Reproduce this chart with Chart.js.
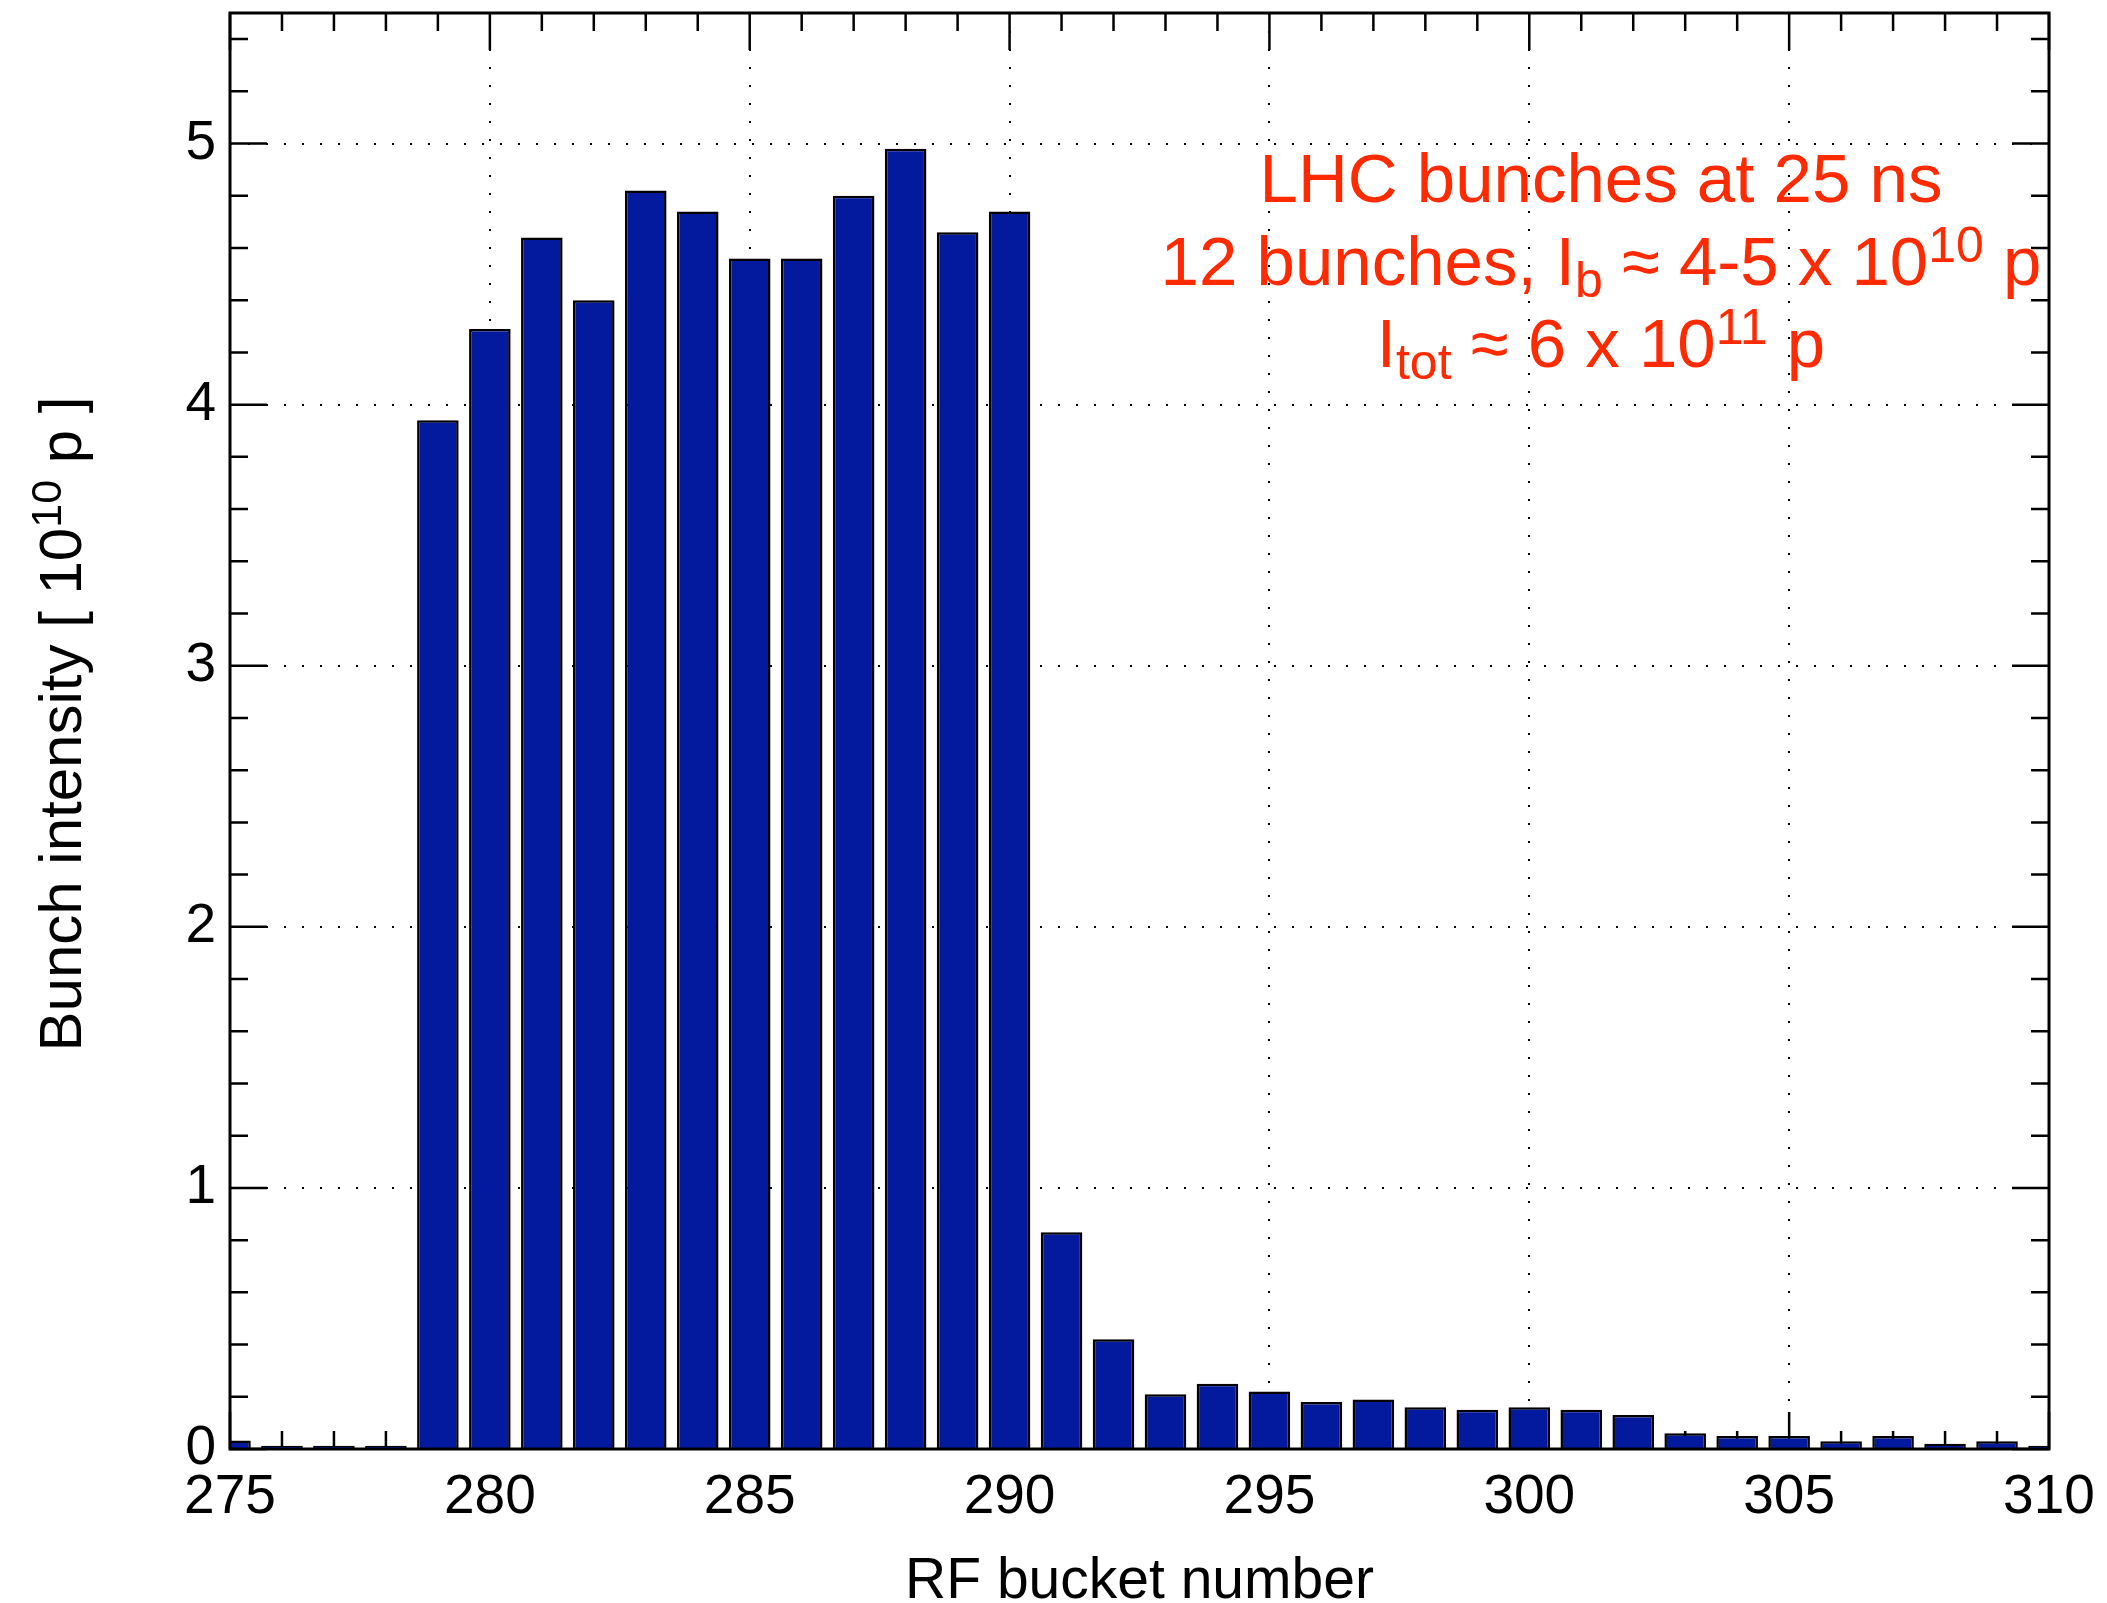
<html><head><meta charset="utf-8">
<script src="https://cdn.jsdelivr.net/npm/chart.js@4.4.0/dist/chart.umd.min.js"></script>
<style>
  html, body { margin:0; padding:0; background:#fff; }
  #box { position:relative; width:2107px; height:1603px; }
</style>
</head>
<body>
<div id="box"><canvas id="myChart" width="2107" height="1603"></canvas></div>
<script>
// RF bucket number and bunch intensity [1e10 p]
var buckets = [275, 276, 277, 278, 279, 280, 281, 282, 283, 284, 285, 286,
               287, 288, 289, 290, 291, 292, 293, 294, 295, 296, 297, 298,
               299, 300, 301, 302, 303, 304, 305, 306, 307, 308, 309, 310];
var intensity = [0.033, 0.012, 0.012, 0.012, 3.94, 4.29, 4.64, 4.40, 4.82, 4.74, 4.56, 4.56,
                 4.80, 4.98, 4.66, 4.74, 0.83, 0.42, 0.21, 0.25, 0.22, 0.18, 0.19, 0.16,
                 0.15, 0.16, 0.15, 0.13, 0.06, 0.05, 0.05, 0.03, 0.05, 0.02, 0.03, 0.012];
var xTicks = [275, 280, 285, 290, 295, 300, 305, 310];
var yTicks = [0, 1, 2, 3, 4, 5];

var FONT = '"Liberation Sans", Arial, Helvetica, sans-serif';
var RED = '#ff2a00';

// draw a line of text runs (normal / sub / sup) centred on cx
function drawRuns(ctx, runs, cx, y, size) {
  var small = Math.round(size * 0.72);
  var w = 0;
  runs.forEach(function (r) {
    ctx.font = (r[1] ? small : size) + 'px ' + FONT;
    w += ctx.measureText(r[0]).width;
  });
  var x = cx - w / 2;
  runs.forEach(function (r) {
    var s = r[1] ? small : size;
    ctx.font = s + 'px ' + FONT;
    var dy = r[1] === 'sub' ? size * 0.17 : (r[1] === 'sup' ? -size * 0.33 : 0);
    ctx.fillText(r[0], x, y + dy);
    x += ctx.measureText(r[0]).width;
  });
}

var decor = {
  id: 'decor',
  beforeDatasetsDraw: function (chart) {
    var ctx = chart.ctx, a = chart.chartArea, xs = chart.scales.x, ys = chart.scales.y;
    ctx.save();
    ctx.strokeStyle = '#000';
    ctx.lineWidth = 2.5;
    ctx.beginPath();
    for (var v = xs.min; v <= xs.max; v++) {
      var px = xs.getPixelForValue(v);
      var len = v % 5 === 0 ? 37 : 18;
      ctx.moveTo(px, a.bottom); ctx.lineTo(px, a.bottom - len);
      ctx.moveTo(px, a.top); ctx.lineTo(px, a.top + len);
    }
    for (var k = 0; k * 0.2 <= ys.max + 1e-9; k++) {
      var py = ys.getPixelForValue(k * 0.2);
      var l2 = k % 5 === 0 ? 37 : 18;
      ctx.moveTo(a.left, py); ctx.lineTo(a.left + l2, py);
      ctx.moveTo(a.right, py); ctx.lineTo(a.right - l2, py);
    }
    ctx.stroke();
    ctx.restore();
  },
  afterDatasetsDraw: function (chart) {
    var ctx = chart.ctx, a = chart.chartArea;
    ctx.save();
    ctx.strokeStyle = '#000';
    ctx.lineWidth = 3;
    ctx.strokeRect(a.left, a.top, a.right - a.left, a.bottom - a.top);
    ctx.restore();
  },
  afterDraw: function (chart) {
    var ctx = chart.ctx, a = chart.chartArea;
    ctx.save();
    ctx.textBaseline = 'alphabetic';
    ctx.fillStyle = '#000';
    ctx.textAlign = 'left';
    // x title
    drawRuns(ctx, [['RF bucket number']], (a.left + a.right) / 2, 1598, 57);
    // y title
    ctx.save();
    ctx.translate(81, 724);
    ctx.rotate(-Math.PI / 2);
    drawRuns(ctx, [['Bunch intensity [ 10'], ['10', 'sup'], [' p ]']], 0, 0, 60);
    ctx.restore();
    // note
    ctx.fillStyle = RED;
    var cx = 1601;
    drawRuns(ctx, [['LHC bunches at 25 ns']], cx, 202, 69);
    drawRuns(ctx, [['12 bunches, I'], ['b', 'sub'], [' \u2248 4-5 x 10'], ['10', 'sup'], [' p']], cx, 285, 69);
    drawRuns(ctx, [['I'], ['tot', 'sub'], [' \u2248 6 x 10'], ['11', 'sup'], [' p']], cx, 367, 69);
    ctx.restore();
  }
};

function edgeColor(edges) {
  return function (c) {
    return edges.indexOf(c.tick && c.tick.value) >= 0 ? 'rgba(0,0,0,0)' : '#000';
  };
}

function noPad(s) {
  s.paddingTop = 0; s.paddingBottom = 0; s.paddingLeft = 0; s.paddingRight = 0;
}

var ctx = document.getElementById('myChart');
var myChart = new Chart(ctx, {
  type: 'bar',
  data: {
    datasets: [{
      data: buckets.map(function (b, i) { return { x: b, y: intensity[i] }; }),
      backgroundColor: '#031a9f',
      borderColor: '#000',
      borderWidth: 2.5,
      borderSkipped: 'start',
      barPercentage: 0.8,
      categoryPercentage: 1.0
    }]
  },
  options: {
    responsive: false,
    animation: false,
    devicePixelRatio: 1,
    layout: { padding: { top: 13, right: 58, left: 0, bottom: 0 } },
    plugins: { legend: { display: false }, tooltip: { enabled: false } },
    scales: {
      x: {
        type: 'linear',
        min: 275, max: 310,
        offset: false,
        afterBuildTicks: function (s) { s.ticks = xTicks.map(function (v) { return { value: v }; }); },
        afterFit: function (s) { s.height = 154; noPad(s); },
        grid: { offset: false, color: edgeColor([275, 310]), lineWidth: 2, drawTicks: false },
        border: { display: false, dash: [2, 16] },
        ticks: { padding: 16, color: '#000', font: { family: FONT, size: 55 }, maxRotation: 0 }
      },
      y: {
        min: 0, max: 5.5,
        afterBuildTicks: function (s) { s.ticks = yTicks.map(function (v) { return { value: v }; }); },
        afterFit: function (s) { s.width = 230; noPad(s); },
        grid: { color: edgeColor([0]), lineWidth: 2, drawTicks: false },
        border: { display: false, dash: [2, 16] },
        ticks: { padding: 14, color: '#000', font: { family: FONT, size: 55 } }
      }
    }
  },
  plugins: [decor]
});
</script>
</body></html>
